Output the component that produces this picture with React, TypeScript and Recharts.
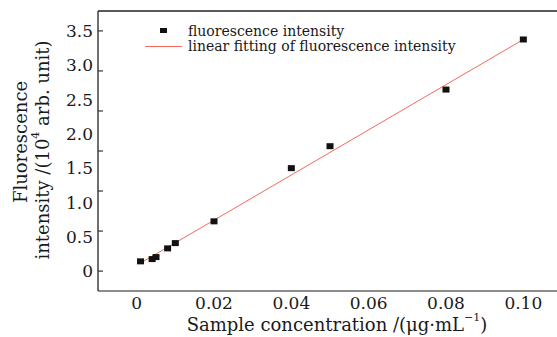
import { ScatterChart, Scatter, XAxis, YAxis, Legend, Label } from "recharts";

// sample points
const concentration = [0.001, 0.004, 0.005, 0.008, 0.01, 0.02, 0.04, 0.05, 0.08, 0.1];
const intensity = [0.142, 0.175, 0.204, 0.331, 0.408, 0.725, 1.5, 1.82, 2.645, 3.375];

// ends of the fitted line
const fitX = [0.001, 0.1];
const fitY = [0.117, 3.375];

const xTicks = [0, 0.02, 0.04, 0.06, 0.08, 0.1];
const xMinorTicks = [0.01, 0.03, 0.05, 0.07, 0.09];
const yTicks = [0, 0.5, 1, 1.5, 2, 2.5, 3, 3.5];
// tick marks on the left axis don't line up with the labels in the original
const yTickMarks = [0, 0.5833, 1.1667, 1.75, 2.3333, 2.9167, 3.5];

const xDomain = [-0.01, 0.11];
const yDomain = [-0.29, 3.79];

const points = concentration.map((x, i) => ({ x, y: intensity[i] }));
const fitData = fitX.map((x, i) => ({ x, y: fitY[i] }));

const FONT = "'DejaVu Serif', serif";
const INK = "#1a1a1a";
const FIT = "#f4695b";

const Square = (props: any) => (
  <rect x={props.cx - 3.5} y={props.cy - 3} width={7} height={6} fill="#111" />
);

const NoLabel = () => <g />;

function LegendBox() {
  return (
    <svg width={330} height={40} style={{ display: "block" }}>
      <rect x={20} y={8} width={7} height={5} fill="#111" />
      <text x={48} y={10.5} dominantBaseline="central" fontFamily={FONT} fontSize={14} fill={INK}>
        fluorescence intensity
      </text>
      <line x1={5} x2={42} y1={26.5} y2={26.5} stroke={FIT} strokeWidth={1} />
      <text x={48} y={26} dominantBaseline="central" fontFamily={FONT} fontSize={14} fill={INK}>
        linear fitting of fluorescence intensity
      </text>
    </svg>
  );
}

function YTitle() {
  return (
    <g fontFamily={FONT} fontSize={18} fill={INK}>
      <text x={20} y={142} transform="rotate(-90, 20, 142)" textAnchor="middle" dominantBaseline="central">
        Fluorescence
      </text>
      <text x={42} y={150} transform="rotate(-90, 42, 150)" textAnchor="middle" dominantBaseline="central">
        intensity /(10<tspan fontSize={11} dy={-7}>4</tspan>
        <tspan dy={7}> arb. unit)</tspan>
      </text>
    </g>
  );
}

function XTitle() {
  return (
    <text x={337} y={324} textAnchor="middle" dominantBaseline="central" fontFamily={FONT} fontSize={18} fill={INK}>
      Sample concentration /(μg·mL<tspan fontSize={11} dy={-7}>−1</tspan>
      <tspan dy={7}>)</tspan>
    </text>
  );
}

const fmtX = (v: number) => (v === 0 ? "0" : v.toFixed(2));
const fmtY = (v: number) => (v === 0 ? "0" : v.toFixed(1));

export default function App() {
  return (
    <div style={{ width: 557, height: 337, overflow: "hidden", background: "#fff" }}>
      <style>{`body{margin:0}`}</style>
      <ScatterChart width={562} height={337} margin={{ top: 11, right: 0, bottom: 0, left: 0 }}>
        <XAxis
          xAxisId="main"
          dataKey="x"
          type="number"
          domain={xDomain}
          allowDataOverflow
          ticks={xTicks}
          tickFormatter={fmtX}
          height={46}
          tickSize={0}
          tickMargin={6}
          tickLine={false}
          axisLine={{ stroke: INK, strokeWidth: 1.2 }}
          tick={{ fontFamily: FONT, fontSize: 17, fill: INK }}
        >
          <Label content={XTitle} />
        </XAxis>
        <XAxis
          xAxisId="major"
          type="number"
          domain={xDomain}
          allowDataOverflow
          ticks={xTicks}
          mirror
          height={10}
          tick={NoLabel}
          tickSize={6}
          axisLine={false}
          tickLine={{ stroke: INK, strokeWidth: 1.2 }}
        />
        <XAxis
          xAxisId="minor"
          type="number"
          domain={xDomain}
          allowDataOverflow
          ticks={xMinorTicks}
          mirror
          height={10}
          tick={NoLabel}
          tickSize={3}
          axisLine={false}
          tickLine={{ stroke: INK, strokeWidth: 1 }}
        />
        <XAxis
          xAxisId="top"
          orientation="top"
          type="number"
          domain={xDomain}
          allowDataOverflow
          mirror
          height={10}
          tick={false}
          tickLine={false}
          axisLine={{ stroke: "#5a5a5a", strokeWidth: 2 }}
        />
        <YAxis
          yAxisId="main"
          dataKey="y"
          type="number"
          domain={yDomain}
          allowDataOverflow
          ticks={yTicks}
          tickFormatter={fmtY}
          width={98}
          tickSize={0}
          tickMargin={5}
          tickLine={false}
          axisLine={{ stroke: "#333", strokeWidth: 1.4 }}
          tick={{ fontFamily: FONT, fontSize: 17, fill: INK }}
        >
          <Label content={YTitle} />
        </YAxis>
        <YAxis
          yAxisId="marks"
          type="number"
          domain={yDomain}
          allowDataOverflow
          ticks={yTickMarks}
          mirror
          width={10}
          tick={NoLabel}
          tickSize={5}
          axisLine={false}
          tickLine={{ stroke: "#333", strokeWidth: 1.2 }}
        />
        <Legend
          verticalAlign="middle"
          align="center"
          content={LegendBox}
          wrapperStyle={{ position: "absolute", left: 140, top: 20, width: 330, height: 40 }}
        />
        <Scatter
          name="linear fitting of fluorescence intensity"
          data={fitData}
          xAxisId="main"
          yAxisId="main"
          line={{ stroke: FIT, strokeWidth: 1 }}
          shape={() => <g />}
          isAnimationActive={false}
        />
        <Scatter
          name="fluorescence intensity"
          data={points}
          xAxisId="main"
          yAxisId="main"
          shape={Square}
          isAnimationActive={false}
        />
      </ScatterChart>
    </div>
  );
}
